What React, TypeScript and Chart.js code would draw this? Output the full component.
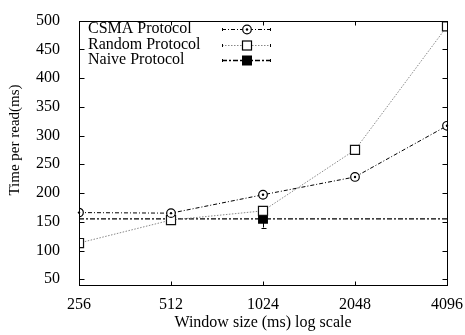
import { useEffect, useRef } from "react";
import { Chart, registerables } from "chart.js";

Chart.register(...registerables);

const windowSizes = [256, 512, 1024, 2048, 4096];
const csmaTimes = [166, 165, 197, 228, 317];
const randomTimes = [113, 153, 169, 275, 490];
const naiveTimes = [155, 155, 155, 155, 155];
const naiveErrLow = [null, null, 140, null, null];
const naiveErrHigh = [null, null, 170, null, null];
const naiveMarkerShown = [false, false, true, false, false];
const yTicks = [50, 100, 150, 200, 250, 300, 350, 400, 450, 500];
const seriesLabels = ["CSMA Protocol", "Random Protocol", "Naive Protocol"];
const xTitle = "Window size (ms) log scale";
const yTitle = "Time per read(ms)";

const FONT = "'Liberation Serif', 'Times New Roman', serif";

const gnuplotPlugin = {
  id: "gnuplotDecor",
  beforeDatasetsDraw(chart: any) {
    const ctx = chart.ctx;
    const xs = chart.scales.x;
    const ys = chart.scales.y;
    ctx.save();
    ctx.strokeStyle = "#000";
    ctx.lineWidth = 1;
    windowSizes.forEach((w, i) => {
      const lo = naiveErrLow[i];
      const hi = naiveErrHigh[i];
      if (lo == null || hi == null) return;
      const px = Math.round(xs.getPixelForValue(w)) + 0.5;
      const pl = ys.getPixelForValue(lo);
      const ph = ys.getPixelForValue(hi);
      ctx.beginPath();
      ctx.moveTo(px, pl);
      ctx.lineTo(px, ph);
      ctx.moveTo(px - 2, Math.round(pl) + 0.5);
      ctx.lineTo(px + 3, Math.round(pl) + 0.5);
      ctx.stroke();
    });
    ctx.restore();
  },
  afterDatasetsDraw(chart: any) {
    const ctx = chart.ctx;
    const area = chart.chartArea;
    const xs = chart.scales.x;
    const ys = chart.scales.y;
    ctx.save();
    // center dots in circles
    const meta0 = chart.getDatasetMeta(0);
    ctx.fillStyle = "#000";
    meta0.data.forEach((pt: any) => {
      ctx.beginPath();
      ctx.arc(pt.x, pt.y, 1.2, 0, Math.PI * 2);
      ctx.fill();
    });
    // border
    ctx.strokeStyle = "#000";
    ctx.lineWidth = 1;
    const l = Math.round(area.left) + 0.5;
    const r = Math.round(area.right) + 0.5;
    const t = Math.round(area.top) + 0.5;
    const b = Math.round(area.bottom) + 0.5;
    ctx.strokeRect(l, t, r - l, b - t);
    // inward ticks
    ctx.beginPath();
    yTicks.forEach((v) => {
      const py = Math.round(ys.getPixelForValue(v)) + 0.5;
      ctx.moveTo(l, py);
      ctx.lineTo(l + 5, py);
      ctx.moveTo(r, py);
      ctx.lineTo(r - 5, py);
    });
    windowSizes.forEach((v) => {
      const px = Math.round(xs.getPixelForValue(v)) + 0.5;
      ctx.moveTo(px, b);
      ctx.lineTo(px, b - 4);
      ctx.moveTo(px, t);
      ctx.lineTo(px, t + 4);
    });
    ctx.stroke();

    // y axis title
    ctx.save();
    ctx.fillStyle = "#000";
    ctx.font = `15px ${FONT}`;
    ctx.textAlign = "center";
    ctx.textBaseline = "middle";
    ctx.translate(15, 140);
    ctx.rotate(-Math.PI / 2);
    ctx.fillText(yTitle, 0, 0);
    ctx.restore();

    // legend
    const rows = [29, 44.5, 60];
    ctx.font = `16px ${FONT}`;
    ctx.textBaseline = "middle";
    ctx.textAlign = "left";
    ctx.fillStyle = "#000";
    chart.data.datasets.forEach((ds: any, i: number) => {
      const y = Math.round(rows[i]) + 0.5;
      ctx.fillStyle = "#000";
      ctx.fillText(seriesLabels[i], 88, rows[i]);
      ctx.save();
      ctx.strokeStyle = ds.borderColor;
      ctx.lineWidth = ds.borderWidth;
      ctx.setLineDash(ds.borderDash || []);
      ctx.beginPath();
      ctx.moveTo(222, y);
      ctx.lineTo(271, y);
      ctx.stroke();
      ctx.setLineDash([]);
      ctx.strokeStyle = "#000";
      ctx.lineWidth = 1;
      ctx.beginPath();
      ctx.moveTo(222.5, y - 1.5);
      ctx.lineTo(222.5, y + 1.5);
      ctx.moveTo(270.5, y - 1.5);
      ctx.lineTo(270.5, y + 1.5);
      ctx.stroke();
      const cx = 247;
      if (i === 0) {
        ctx.fillStyle = "#fff";
        ctx.beginPath();
        ctx.arc(cx, y, 4.3, 0, Math.PI * 2);
        ctx.fill();
        ctx.lineWidth = 1.2;
        ctx.stroke();
        ctx.fillStyle = "#000";
        ctx.beginPath();
        ctx.arc(cx, y, 1.2, 0, Math.PI * 2);
        ctx.fill();
      } else if (i === 1) {
        ctx.fillStyle = "#fff";
        ctx.fillRect(cx - 4.5, y - 4.5, 9, 9);
        ctx.lineWidth = 1.2;
        ctx.strokeRect(cx - 4.5, y - 4.5, 9, 9);
      } else {
        ctx.fillStyle = "#000";
        ctx.fillRect(cx - 5, y - 5, 10, 10);
      }
      ctx.restore();
    });
    ctx.restore();
  },
};

export default function App() {
  const ref = useRef<HTMLCanvasElement | null>(null);
  useEffect(() => {
    document.body.style.margin = "0";
    const canvas = ref.current;
    if (!canvas) return;
    const chart = new Chart(canvas, {
      type: "line",
      data: {
        datasets: [
          {
            label: seriesLabels[0],
            data: windowSizes.map((x, i) => ({ x, y: csmaTimes[i] })),
            borderColor: "#000",
            borderWidth: 1,
            borderDash: [4, 2, 1, 2],
            pointStyle: "circle",
            pointRadius: 4.3,
            pointBorderWidth: 1.2,
            pointBackgroundColor: "#fff",
            pointBorderColor: "#000",
            fill: false,
            tension: 0,
          },
          {
            label: seriesLabels[1],
            data: windowSizes.map((x, i) => ({ x, y: randomTimes[i] })),
            borderColor: "#888",
            borderWidth: 1,
            borderDash: [1.5, 1.5],
            pointStyle: "rect",
            pointRadius: 6.4,
            pointBorderWidth: 1.2,
            pointBackgroundColor: "#fff",
            pointBorderColor: "#111",
            fill: false,
            tension: 0,
          },
          {
            label: seriesLabels[2],
            data: windowSizes.map((x, i) => ({ x, y: naiveTimes[i] })),
            borderColor: "#000",
            borderWidth: 1.3,
            borderDash: [5, 2, 2, 2],
            pointStyle: "rect",
            pointRadius: naiveMarkerShown.map((s) => (s ? 7 : 0)),
            pointBorderWidth: 0,
            pointBackgroundColor: "#000",
            pointBorderColor: "#000",
            fill: false,
            tension: 0,
          },
        ],
      },
      options: {
        animation: false,
        responsive: false,
        maintainAspectRatio: false,
        layout: { padding: { left: 0, right: 15, top: 15, bottom: 0 } },
        plugins: {
          legend: { display: false },
          tooltip: { enabled: false },
        },
        scales: {
          x: {
            type: "logarithmic",
            min: 256,
            max: 4096,
            grid: { display: false },
            border: { display: false },
            afterBuildTicks: (scale: any) => {
              scale.ticks = windowSizes.map((v) => ({ value: v }));
            },
            afterFit: (scale: any) => {
              scale.height = 50;
            },
            ticks: {
              autoSkip: false,
              maxRotation: 0,
              padding: 2,
              color: "#000",
              font: { family: FONT, size: 16 },
              callback: (v: any) => String(v),
            },
            title: {
              display: true,
              text: xTitle,
              color: "#000",
              font: { family: FONT, size: 16 },
              padding: { top: 0, bottom: 3 },
            },
          },
          y: {
            type: "linear",
            min: 40,
            max: 500,
            grid: { display: false },
            border: { display: false },
            afterBuildTicks: (scale: any) => {
              scale.ticks = yTicks.map((v) => ({ value: v }));
            },
            afterFit: (scale: any) => {
              scale.width = 79;
            },
            ticks: {
              autoSkip: false,
              padding: 11,
              color: "#000",
              font: { family: FONT, size: 16 },
              callback: (v: any) => String(v),
            },
          },
        },
      },
      plugins: [gnuplotPlugin],
    });
    return () => chart.destroy();
  }, []);
  return (
    <div style={{ width: 465, height: 335, background: "#fff" }}>
      <canvas ref={ref} width={465} height={335} style={{ display: "block" }} />
    </div>
  );
}
